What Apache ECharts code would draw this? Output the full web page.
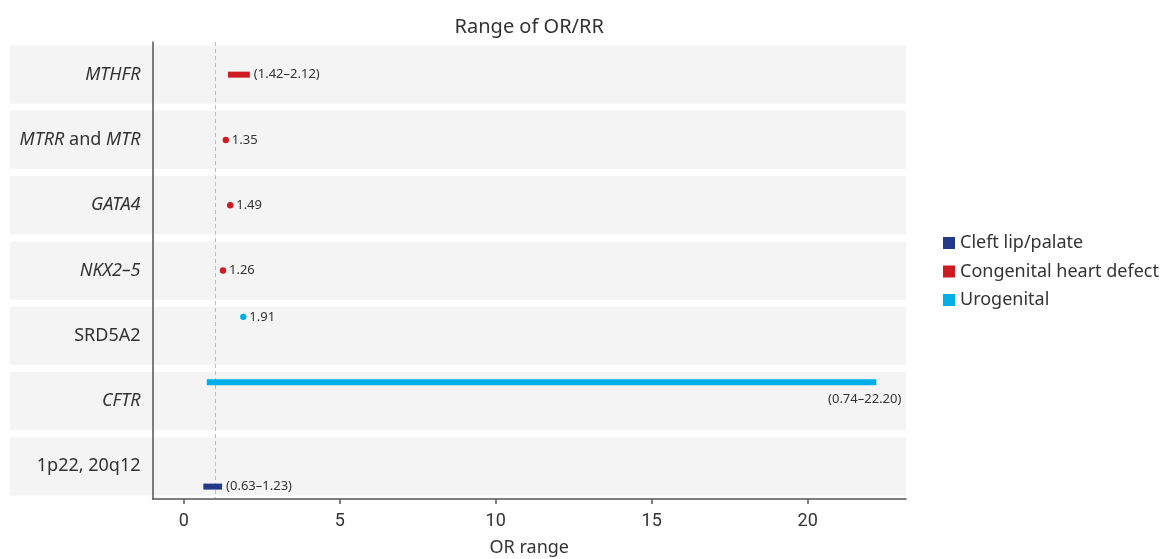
<!DOCTYPE html>
<html>
<head>
<meta charset="utf-8">
<script src="https://cdn.jsdelivr.net/npm/echarts@6/dist/echarts.min.js"></script>
<style>html,body{margin:0;padding:0;background:#fff}#c{width:1163px;height:559px}</style>
</head>
<body>
<div id="c"></div>
<script>
// ---- data ----
const categories = ['MTHFR', 'MTRR and MTR', 'GATA4', 'NKX2–5', 'SRD5A2', 'CFTR', '1p22, 20q12'];
const categoryLabels = ['{i|MTHFR}', '{i|MTRR} and {i|MTR}', '{i|GATA4}', '{i|NKX2–5}', 'SRD5A2', '{i|CFTR}', '1p22, 20q12'];
const xTicks = [0, 5, 10, 15, 20];
const groupNames = ['Cleft lip/palate', 'Congenital heart defect', 'Urogenital'];
// [category, low, high]
const cleft = [['1p22, 20q12', 0.63, 1.23]];
const congenital = [['MTHFR', 1.42, 2.12], ['MTRR and MTR', 1.35, 1.35], ['GATA4', 1.49, 1.49], ['NKX2–5', 1.26, 1.26]];
const urogenital = [['SRD5A2', 1.91, 1.91], ['CFTR', 0.74, 22.20]];
const referenceLine = 1;

// ---- styling ----
const colors = ['#233a8b', '#cf1b22', '#00aee8'];
const offsets = [0.31, 0, -0.29];
const groups = [cleft, congenital, urogenital];
const font = 'Noto Sans';
const X_MIN = -1, X_MAX = 23.15;

function makeRender(off, color) {
  return function (params, api) {
    const c = api.value(0), lo = api.value(1), hi = api.value(2);
    const p0 = api.coord([lo, c]);
    const p1 = api.coord([hi, c]);
    const band = api.size([0, 1])[1];
    const y = p0[1] + off * band;
    const cs = params.coordSys;
    const children = [];
    const txtStyle = { fill: '#333', fontSize: 13, fontFamily: font };
    if (lo === hi) {
      children.push({ type: 'circle', shape: { cx: p0[0], cy: y, r: 3.2 }, style: { fill: color } });
      children.push({ type: 'text', style: Object.assign({ text: lo.toFixed(2), x: p0[0] + 6, y: y, align: 'left', verticalAlign: 'middle' }, txtStyle) });
    } else {
      children.push({ type: 'rect', shape: { x: p0[0], y: y - 3, width: p1[0] - p0[0], height: 6 }, style: { fill: color } });
      const t = '(' + lo.toFixed(2) + '–' + hi.toFixed(2) + ')';
      if (p1[0] + 80 > cs.x + cs.width) {
        children.push({ type: 'text', style: Object.assign({ text: t, x: p1[0] + 25, y: y + 17, align: 'right', verticalAlign: 'middle' }, txtStyle) });
      } else {
        children.push({ type: 'text', style: Object.assign({ text: t, x: p1[0] + 4, y: y, align: 'left', verticalAlign: 'middle' }, txtStyle) });
      }
    }
    return { type: 'group', children: children };
  };
}

const series = [];
// background bands
series.push({
  type: 'custom',
  name: 'bg',
  silent: true,
  clip: false,
  z: 0,
  encode: { y: 0, x: 1 },
  data: categories.map(c => [c, 0]),
  renderItem: function (params, api) {
    const cs = params.coordSys;
    const p = api.coord([0, api.value(0)]);
    const band = api.size([0, 1])[1];
    const h = band - 7;
    return { type: 'rect', shape: { x: cs.x - 142.5, y: p[1] - h / 2, width: cs.width + 142.5, height: h }, style: { fill: '#f4f4f4' } };
  }
});
series.push({
  type: 'line',
  name: 'ref',
  z: 1,
  data: [],
  markLine: {
    silent: true,
    symbol: 'none',
    label: { show: false },
    lineStyle: { color: '#bdbdbd', type: [4, 3], width: 1 },
    data: [{ xAxis: referenceLine }]
  }
});
groups.forEach((g, i) => {
  series.push({
    type: 'custom',
    name: groupNames[i],
    color: colors[i],
    itemStyle: { color: colors[i] },
    clip: false,
    z: 5,
    encode: { y: 0, x: [1, 2] },
    data: g,
    renderItem: makeRender(offsets[i], colors[i])
  });
});

const chart = echarts.init(document.getElementById('c'));
chart.setOption({
  animation: false,
  backgroundColor: '#fff',
  grid: { left: 152.5, right: 257, top: 42, bottom: 60, containLabel: false, outerBoundsMode: 'none' },
  legend: {
    data: groupNames,
    orient: 'vertical',
    left: 938,
    top: 229,
    icon: 'rect',
    itemWidth: 12,
    itemHeight: 12,
    itemGap: 10.5,
    textStyle: { fontSize: 18, color: '#333', fontFamily: font, lineHeight: 18 }
  },
  xAxis: [{
    type: 'value',
    min: X_MIN,
    max: X_MAX,
    z: 10,
    name: 'OR range',
    nameLocation: 'middle',
    nameGap: 40,
    nameTextStyle: { fontSize: 18, color: '#333', fontFamily: font },
    axisLine: { show: true, onZero: false, lineStyle: { color: '#555', width: 1.5 } },
    axisTick: { show: true, customValues: xTicks, length: 5, lineStyle: { color: '#555', width: 1.5 } },
    axisLabel: { customValues: xTicks, fontSize: 18, color: '#333', fontFamily: 'Roboto', margin: 13 },
    splitLine: { show: false }
  }, {
    type: 'value',
    position: 'top',
    min: X_MIN,
    max: X_MAX,
    name: 'Range of OR/RR',
    nameLocation: 'middle',
    nameGap: 5,
    nameTextStyle: { fontSize: 20, color: '#333', fontFamily: font, verticalAlign: 'bottom' },
    axisLine: { show: false },
    axisTick: { show: false },
    axisLabel: { show: false },
    splitLine: { show: false }
  }],
  yAxis: {
    type: 'category',
    data: categories,
    inverse: true,
    z: 10,
    axisLine: { show: true, onZero: false, lineStyle: { color: '#555', width: 1.5 } },
    axisTick: { show: false },
    axisLabel: {
      margin: 12,
      fontSize: 18,
      color: '#333',
      fontFamily: font,
      formatter: function (v, idx) { return categoryLabels[idx]; },
      rich: { i: { fontStyle: 'italic', fontSize: 18, color: '#333', fontFamily: font } }
    },
    splitLine: { show: false }
  },
  series: series
});
</script>
</body>
</html>
